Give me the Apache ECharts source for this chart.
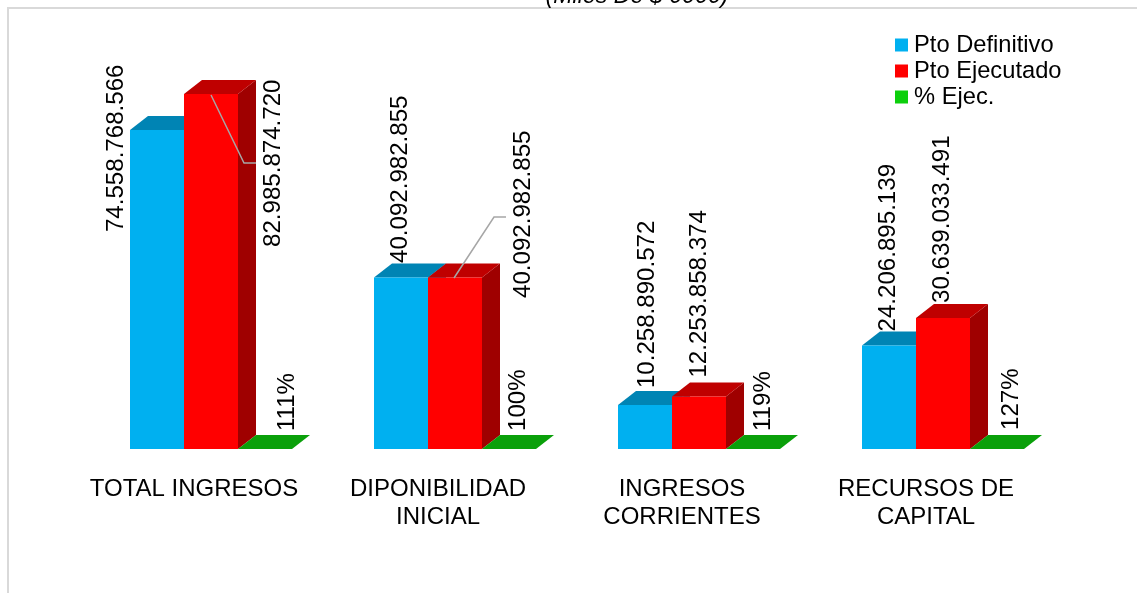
<!DOCTYPE html>
<html><head><meta charset="utf-8">
<style>html,body{margin:0;padding:0;background:#fff}#c{width:1137px;height:593px}</style>
<script src="https://cdn.jsdelivr.net/npm/echarts@6/dist/echarts.min.js"></script>
</head><body><div id="c"></div>
<script>
const categories = ['TOTAL INGRESOS', 'DIPONIBILIDAD\nINICIAL', 'INGRESOS\nCORRIENTES', 'RECURSOS DE\nCAPITAL'];
const ptoDefinitivo = [74558768566, 40092982855, 10258890572, 24206895139];
const ptoEjecutado = [82985874720, 40092982855, 12253858374, 30639033491];
const pctEjec = [111, 100, 119, 127];
const seriesNames = ['Pto Definitivo', 'Pto Ejecutado', '% Ejec.'];

// layout only: label nudges relative to each bar's front top-left corner
const labelNudgeDef = [[-14, 102], [26, -14.5], [29, -17], [26, -14]];
const labelNudgeEje = [[89, 153], [95, 20.5], [27, -19], [26, -15]];
const labelNudgePct = [[49, -18], [36, -18], [37, -18], [41, -19]];
// leader lines relative to the same corner
const leaders = { 0: [[27, 1], [60, 69], [72, 69]], 1: [[26, 0.5], [66, -60.5], [78, -60.5]] };

const FONT = '"Liberation Sans", Arial, sans-serif';
const BAR_FRAC = 54 / 244, DX = 18, DY = 14;
const fmt = v => String(v).replace(/\B(?=(\d{3})+$)/g, '.');

function bar3d(slot, front, top, side, nudges, labelOf, leaderMap) {
  return function (params, api) {
    const i = api.value(0);
    const v = api.value(1);
    const base = api.coord([i, 0]);
    const tip = api.coord([i, v]);
    const w = api.size([1, 0])[0] * BAR_FRAC;
    const x = Math.round(base[0] - 64 + slot * w);
    const y0 = base[1], y1 = tip[1];
    const kids = [
      { type: 'polygon', shape: { points: [[x + w, y1], [x + w + DX, y1 - DY], [x + w + DX, y0 - DY], [x + w, y0]] }, style: { fill: side } },
      { type: 'polygon', shape: { points: [[x, y1], [x + DX, y1 - DY], [x + w + DX, y1 - DY], [x + w, y1]] }, style: { fill: top } },
      { type: 'rect', shape: { x: x, y: y1, width: w, height: y0 - y1 }, style: { fill: front } }
    ];
    if (leaderMap && leaderMap[i]) {
      kids.push({ type: 'polyline', shape: { points: leaderMap[i].map(p => [x + p[0], y1 + p[1]]) },
        style: { stroke: '#a6a6a6', lineWidth: 1.5, fill: null } });
    }
    const n = nudges[i];
    kids.push({ type: 'text', x: x + n[0], y: y1 + n[1], rotation: Math.PI / 2,
      style: { text: labelOf(v), x: 0, y: 0, fill: '#000', font: '24.1px ' + FONT, textAlign: 'left', textVerticalAlign: 'middle' } });
    return { type: 'group', children: kids };
  };
}

function series(name, vals, color, render, z) {
  return { name, type: 'custom', z, itemStyle: { color }, encode: { x: 0, y: 1 },
    data: vals.map((v, i) => [i, v]), renderItem: render, clip: false };
}

const chart = echarts.init(document.getElementById('c'), null, { renderer: 'canvas' });
chart.setOption({
  animation: false,
  backgroundColor: '#fff',
  title: { text: '(Miles De $ 0000)', left: 632, textAlign: 'center', top: -20,
    textStyle: { fontFamily: FONT, fontSize: 23.2, fontStyle: 'italic', fontWeight: 'normal', color: '#000' } },
  graphic: [{ type: 'polyline', silent: true, z: -1,
    shape: { points: [[1137, 8], [8, 8], [8, 593]] }, style: { stroke: '#d9d9d9', lineWidth: 2, fill: null } }],
  legend: { orient: 'vertical', left: 890, top: 27, itemWidth: 13, itemHeight: 13, itemGap: 0,
    icon: 'rect', selectedMode: false, data: seriesNames,
    textStyle: { fontFamily: FONT, fontSize: 23.7, color: '#000', padding: [0, 0, 0, 1], lineHeight: 26, height: 26 } },
  grid: { left: 72, right: 89, top: 21.2, bottom: 144 },
  xAxis: { type: 'category', data: categories, axisLine: { show: false }, axisTick: { show: false },
    axisLabel: { interval: 0, margin: 26, fontFamily: FONT, fontSize: 24, color: '#000', lineHeight: 28 } },
  yAxis: { type: 'value', min: 0, max: 100000000000, show: false, splitLine: { show: false } },
  series: [
    series(seriesNames[0], ptoDefinitivo, '#00b0f0', bar3d(0, '#00b0f0', '#0084b4', '#0084b4', labelNudgeDef, fmt), 2),
    series(seriesNames[1], ptoEjecutado, '#ff0000', bar3d(1, '#ff0000', '#bf0000', '#9f0000', labelNudgeEje, fmt, leaders), 3),
    series(seriesNames[2], pctEjec, '#0ccf0c', bar3d(2, '#0ccf0c', '#0aa00a', '#0aa00a', labelNudgePct, v => v + '%'), 4)
  ]
});
</script></body></html>
